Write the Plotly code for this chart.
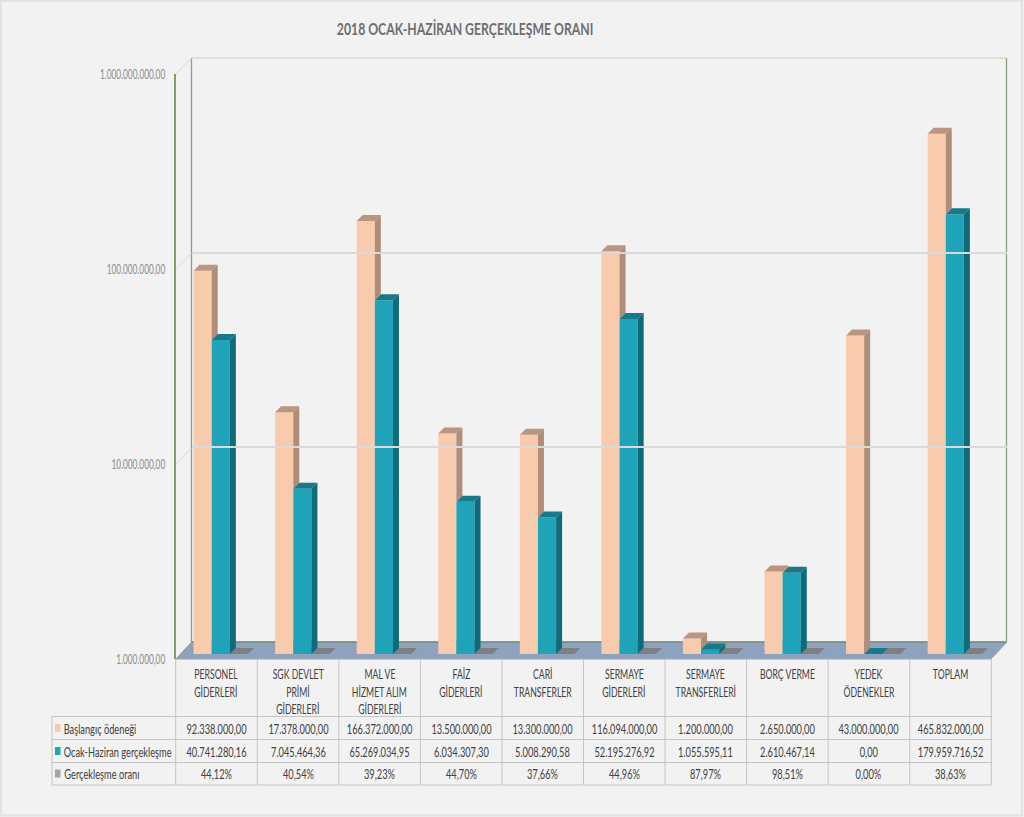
import plotly.graph_objects as go

W, H = 1024, 817

title = "2018 OCAK-HAZİRAN GERÇEKLEŞME ORANI"
categories = [
    ["PERSONEL", "GİDERLERİ"],
    ["SGK DEVLET", "PRİMİ", "GİDERLERİ"],
    ["MAL VE", "HİZMET ALIM", "GİDERLERİ"],
    ["FAİZ", "GİDERLERİ"],
    ["CARİ", "TRANSFERLER"],
    ["SERMAYE", "GİDERLERİ"],
    ["SERMAYE", "TRANSFERLERİ"],
    ["BORÇ VERME"],
    ["YEDEK", "ÖDENEKLER"],
    ["TOPLAM"],
]
series_names = ["Başlangıç ödeneği", "Ocak-Haziran gerçekleşme", "Gerçekleşme oranı"]
budget = [92338000.00, 17378000.00, 166372000.00, 13500000.00, 13300000.00,
          116094000.00, 1200000.00, 2650000.00, 43000000.00, 465832000.00]
actual = [40741280.16, 7045464.36, 65269034.95, 6034307.30, 5008290.58,
          52195276.92, 1055595.11, 2610467.14, 0.00, 179959716.52]
ratio = [44.12, 40.54, 39.23, 44.70, 37.66, 44.96, 87.97, 98.51, 0.00, 38.63]
tick_values = [1e6, 1e7, 1e8, 1e9]
tick_labels = ["1.000.000,00", "10.000.000,00", "100.000.000,00", "1.000.000.000,00"]

PINK, PINK_SIDE, PINK_TOP = "#F8CBAD", "#B08D78", "#BC957E"
TEAL, TEAL_SIDE, TEAL_TOP = "#1FA3B8", "#0E6B7A", "#17798A"
GRAY_KEY, GRAY_FLAT = "#A5A5A5", "#7F7F80"
GRID = "#DADADA"
GREEN = "#86A474"
TABLE_LINE = "#C4C4C4"
TEXT = "#404040"
AXIS_TEXT = "#8C8C8C"
FONT = "Lato, Liberation Sans, sans-serif"


def fx(px):
    return px / W


def fy(px):
    return 1 - px / H


def money(v):
    s = f"{v:,.2f}"
    return s.replace(",", "#").replace(".", ",").replace("#", ".")


def pct(v):
    return f"{v:.2f}".replace(".", ",") + "%"


# Geometry of the pseudo-3D chart (pixels)
TBL_L, TBL_R = 175.7, 991.3
COL = (TBL_R - TBL_L) / 10
BAR_L, BAR_B, BAR_T = 180.0, 654.0, 69.0
DECADE = (BAR_B - BAR_T) / 3
DEPTH = 6.0
BARGAP = 0.333
dx = DEPTH / COL
k = 10 ** (DEPTH / DECADE)
group_w = 1 - BARGAP
bar_w = group_w / 3
FLOOR = 1e6

fig = go.Figure()

# Back wall (gridlines) and front axis (labels) use their own log axes.
fig.add_trace(go.Scatter(x=[0], y=[1e6], xaxis="x2", yaxis="y2", mode="none",
                         hoverinfo="skip", showlegend=False))
fig.add_trace(go.Scatter(x=[0], y=[1e6], xaxis="x3", yaxis="y3", mode="none",
                         hoverinfo="skip", showlegend=False))

xs = list(range(len(categories)))
for name, vals, col in zip(series_names, [budget, actual, ratio], [PINK, TEAL, GRAY_KEY]):
    fig.add_trace(go.Bar(x=xs, y=vals, name=name, marker=dict(color=col, line=dict(width=0)),
                         showlegend=False))


def poly(paths, color):
    X, Y = [], []
    for p in paths:
        X += [q[0] for q in p] + [None]
        Y += [q[1] for q in p] + [None]
    fig.add_trace(go.Scatter(x=X, y=Y, mode="lines", fill="toself", fillcolor=color,
                             line=dict(width=0, color=color), hoverinfo="skip",
                             showlegend=False, cliponaxis=False))


def left(i, j):
    return i - group_w / 2 + j * bar_w


def top_face(i, j, v):
    a = left(i, j)
    b = a + bar_w
    return [(a, v), (b, v), (b + dx, v * k), (a + dx, v * k), (a, v)]


def side_face(i, j, v, low):
    b = left(i, j) + bar_w
    return [(b, v), (b + dx, v * k), (b + dx, low * k), (b, low), (b, v)]


# Flat gray markers: the ratio series is far below the axis minimum
poly([top_face(i, 2, FLOOR) for i in xs], GRAY_FLAT)
# Budget faces (only the part not hidden by the teal bar)
poly([side_face(i, 0, budget[i], max(actual[i], FLOOR)) for i in xs], PINK_SIDE)
poly([top_face(i, 0, budget[i]) for i in xs], PINK_TOP)
# Actual faces
poly([side_face(i, 1, actual[i], FLOOR) for i in xs if actual[i] > 0], TEAL_SIDE)
poly([top_face(i, 1, max(actual[i], FLOOR)) for i in xs], TEAL_TOP)

shapes = []


def line(x0, y0, x1, y1, color, width=1):
    shapes.append(dict(type="line", xref="paper", yref="paper", x0=fx(x0), y0=fy(y0),
                       x1=fx(x1), y1=fy(y1), line=dict(color=color, width=width), layer="below"))


# Page frame
shapes.append(dict(type="rect", xref="paper", yref="paper", x0=fx(1), y0=fy(1),
                   x1=fx(1022), y1=fy(815.5), line=dict(color="#E2E2E2", width=2),
                   fillcolor="rgba(0,0,0,0)", layer="below"))

# Floor
fl = [(176, 659), (192, 642), (1007, 642), (991, 659)]
path = "M" + " L".join(f"{fx(a)},{fy(b)}" for a, b in fl) + " Z"
shapes.append(dict(type="path", xref="paper", yref="paper", path=path,
                   fillcolor="#8DA2BF", line=dict(color="#9AA8B8", width=1), layer="below"))
line(192, 642, 1007, 642, "#6F8A78", 1.5)
# Wall edges
line(191.5, 58, 1006.5, 58, "#D5DBCB", 1.5)
line(191.5, 58, 191.5, 642, GREEN, 1.3)
line(1006.5, 58, 1006.5, 642, GREEN, 1.3)
line(176, 659, 192, 642, "#8A9A8A", 1)
for yfront in [74, 269, 464]:
    line(176, yfront, 191.5, yfront - 16, GRID, 1)
line(1006.5, 642, 991, 659, "#9AA8B8", 1)

# Data table
col_edges = [TBL_L + COL * i for i in range(11)]
for i, x in enumerate(col_edges):
    line(x, 659, x, 785, TABLE_LINE, 1)
TABLE_ROWS = [716.5, 739.5, 762.5, 785]
for y in TABLE_ROWS:
    line(52, y, TBL_R, y, TABLE_LINE, 1)
line(52, 716.5, 52, 785, TABLE_LINE, 1)

ann = []


def text(x, y, s, size=14, color=TEXT, anchor="center", bold=False):
    ann.append(dict(xref="paper", yref="paper", x=fx(x), y=fy(y), text=f"<b>{s}</b>" if bold else s,
                    showarrow=False, xanchor=anchor, yanchor="middle",
                    font=dict(family=FONT, size=size, color=color)))


text(464.5, 28, title, size=17, color="#6E6E6E", bold=True)

for i, lines in enumerate(categories):
    cx = TBL_L + COL * (i + 0.5)
    for n, s in enumerate(lines):
        text(cx, 673.5 + n * 17.5, s)

row_y = [728, 751, 773.5]
name_centers = [100, 117.5, 102]
row_text = [[money(v) for v in budget], [money(v) for v in actual], [pct(v) for v in ratio]]
key_colors = [PINK, TEAL, GRAY_KEY]
for r, name in enumerate(series_names):
    y = row_y[r]
    shapes.append(dict(type="rect", xref="paper", yref="paper", x0=fx(55), x1=fx(60.5),
                       y0=fy(y - 4), y1=fy(y + 4), fillcolor=key_colors[r], line=dict(width=0),
                       layer="below"))
    text(name_centers[r], y, name)
    for i, s in enumerate(row_text[r]):
        text(TBL_L + COL * (i + 0.5), y, s)

log_common = dict(type="log", range=[6, 9], tickmode="array", tickvals=tick_values)

fig.update_layout(
    width=W, height=H, margin=dict(l=0, r=0, t=0, b=0, autoexpand=False),
    paper_bgcolor="#F2F2F2", plot_bgcolor="rgba(0,0,0,0)",
    barmode="group", bargap=BARGAP, bargroupgap=0,
    showlegend=False, shapes=shapes, annotations=ann, hovermode=False,
    font=dict(family=FONT),
    xaxis=dict(domain=[fx(BAR_L), fx(BAR_L + COL * 10)], range=[-0.5, 9.5], visible=False,
               fixedrange=True),
    yaxis=dict(domain=[fy(BAR_B), fy(BAR_T)], visible=False, fixedrange=True, **log_common),
    xaxis2=dict(domain=[fx(191.5), fx(1006.5)], range=[0, 1], visible=False, anchor="y2",
                fixedrange=True),
    yaxis2=dict(domain=[fy(642), fy(58)], anchor="x2", showgrid=True, gridcolor=GRID, gridwidth=1.5,
                zeroline=False, showticklabels=False, ticks="", fixedrange=True, **log_common),
    xaxis3=dict(domain=[fx(176), fx(177)], range=[0, 1], visible=False, anchor="y3",
                fixedrange=True),
    yaxis3=dict(domain=[fy(659), fy(74)], anchor="x3", showgrid=False, zeroline=False,
                showline=True, linecolor="#7FA065", linewidth=2, ticktext=tick_labels,
                ticks="outside", ticklen=6, tickcolor="rgba(0,0,0,0)",
                tickfont=dict(family=FONT, size=14, color=AXIS_TEXT), fixedrange=True, **log_common),
)

# The reference's lettering is horizontally condensed: squeeze the real SVG text to the same width.
SQUEEZE = """
(function () {
  function squeeze(el, f) {
    var w = el.getComputedTextLength();
    if (w > 0) {
      el.setAttribute('textLength', (w * f).toFixed(1));
      el.setAttribute('lengthAdjust', 'spacingAndGlyphs');
    }
  }
  function run() {
    document.querySelectorAll('.annotation-text').forEach(function (el) {
      if (el.hasAttribute('textLength')) return;
      var t = el.textContent;
      var f = 0.66;
      if (t.indexOf('2018') === 0) f = 0.72;
      else if (t === t.toLocaleUpperCase('tr') && /[A-Z]/.test(t)) f = 0.62;
      squeeze(el, f);
    });
    document.querySelectorAll('g[class$="tick"] text').forEach(function (el) {
      if (!el.hasAttribute('textLength')) squeeze(el, 0.59);
    });
  }
  document.body.style.margin = '0';
  document.body.style.overflow = 'hidden';
  run();
  setTimeout(run, 50);
})();
"""

fig.write_html("out.html", config=dict(displayModeBar=False), post_script=SQUEEZE)
